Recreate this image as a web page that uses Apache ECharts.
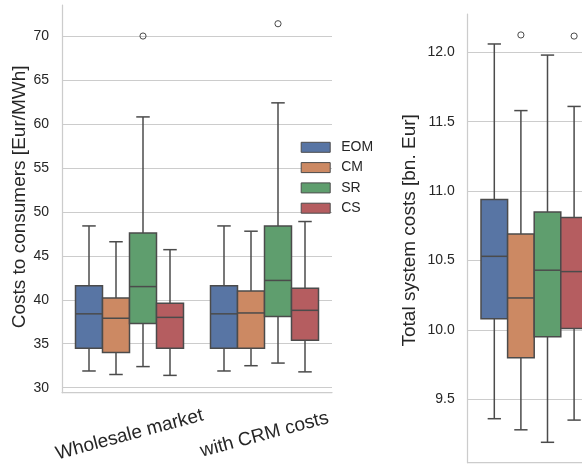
<!DOCTYPE html>
<html>
<head>
<meta charset="utf-8">
<script src="https://cdn.jsdelivr.net/npm/echarts@6/dist/echarts.min.js"></script>
<style>
  html, body { margin: 0; padding: 0; background: #ffffff; }
  #chart { width: 582px; height: 464px; }
</style>
</head>
<body>
<div id="chart"></div>
<script>
// Scenario groups on the consumer-cost panel
const groupLabels = ['Wholesale market', 'with CRM costs'];
const marketDesigns = ['EOM', 'CM', 'SR', 'CS'];

// Five-number summaries: [lower whisker, Q1, median, Q3, upper whisker], one row per group
const consumerEOM = [[31.9, 34.5, 38.4, 41.6, 48.4], [31.9, 34.5, 38.4, 41.6, 48.4]];
const consumerCM  = [[31.5, 34.0, 37.9, 40.2, 46.6], [32.5, 34.5, 38.5, 41.0, 47.8]];
const consumerSR  = [[32.4, 37.3, 41.5, 47.6, 60.8], [32.8, 38.1, 42.2, 48.4, 62.4]];
const consumerCS  = [[31.4, 34.5, 38.0, 39.6, 45.7], [31.8, 35.4, 38.8, 41.3, 48.9]];
// Outliers: [group index, design index, value]
const consumerOutliers = [[0, 2, 70.0], [1, 2, 71.4]];

// Total system costs (single group)
const systemEOM = [9.36, 10.08, 10.53, 10.94, 12.06];
const systemCM  = [9.28, 9.80, 10.23, 10.69, 11.58];
const systemSR  = [9.19, 9.95, 10.43, 10.85, 11.98];
const systemCS  = [9.35, 10.01, 10.42, 10.81, 11.61];
const systemOutliers = [[0, 1, 12.125], [0, 3, 12.117]];

// Tick values on the two value axes
const consumerTicks = [30, 35, 40, 45, 50, 55, 60, 65, 70];
const systemTicks = [9.5, 10.0, 10.5, 11.0, 11.5, 12.0];

const boxColors = ['#5875a4', '#cc8963', '#5f9e6e', '#b55d60'];
const lineColor = '#4b4b4b';
const textColor = '#262626';
const fontFamily = "'Liberation Sans', Arial, sans-serif";

// Horizontal centre and width of one box inside its category band
function boxSlot(api, cat, designIdx) {
  const band = api.size([1, 0])[0];
  const groupW = band * 0.8;
  const w = groupW / marketDesigns.length;
  const cx = api.coord([cat, 0])[0] - groupW / 2 + w * (designIdx + 0.5);
  return { cx, w };
}

function boxRenderer(designIdx) {
  return function (params, api) {
    const cat = api.value(0);
    const { cx, w } = boxSlot(api, cat, designIdx);
    const py = v => api.coord([cat, v])[1];
    const lo = py(api.value(1));
    const q1 = py(api.value(2));
    const med = py(api.value(3));
    const q3 = py(api.value(4));
    const hi = py(api.value(5));
    const capW = w * 0.5;
    const stroke = { stroke: lineColor, lineWidth: 1.5 };
    const seg = (x1, y1, x2, y2) => ({ type: 'line', shape: { x1, y1, x2, y2 }, style: stroke });
    return {
      type: 'group',
      children: [
        seg(cx, q1, cx, lo),
        seg(cx - capW / 2, lo, cx + capW / 2, lo),
        seg(cx, q3, cx, hi),
        seg(cx - capW / 2, hi, cx + capW / 2, hi),
        {
          type: 'rect',
          shape: { x: cx - w / 2, y: q3, width: w, height: q1 - q3 },
          style: { fill: boxColors[designIdx], stroke: lineColor, lineWidth: 1.5 }
        },
        seg(cx - w / 2, med, cx + w / 2, med)
      ]
    };
  };
}

function outlierRenderer(params, api) {
  const cat = api.value(0);
  const { cx } = boxSlot(api, cat, api.value(1));
  const y = api.coord([cat, api.value(2)])[1];
  return {
    type: 'circle',
    shape: { cx, cy: y, r: 3.1 },
    style: { fill: 'none', stroke: lineColor, lineWidth: 1 }
  };
}

const consumerData = [consumerEOM, consumerCM, consumerSR, consumerCS];
const systemData = [systemEOM, systemCM, systemSR, systemCS];

const series = [];
marketDesigns.forEach((name, i) => {
  series.push({
    type: 'custom',
    name,
    xAxisIndex: 0, yAxisIndex: 0,
    itemStyle: { color: boxColors[i] },
    renderItem: boxRenderer(i),
    encode: { x: 0, y: [1, 2, 3, 4, 5] },
    data: consumerData[i].map((s, g) => [g, ...s]),
    z: 3
  });
  series.push({
    type: 'custom',
    name,
    xAxisIndex: 1, yAxisIndex: 1,
    itemStyle: { color: boxColors[i] },
    renderItem: boxRenderer(i),
    encode: { x: 0, y: [1, 2, 3, 4, 5] },
    data: [[0, ...systemData[i]]],
    z: 3
  });
});
series.push({
  type: 'custom', xAxisIndex: 0, yAxisIndex: 0,
  renderItem: outlierRenderer, encode: { x: 0, y: 2 },
  data: consumerOutliers, z: 4
});
series.push({
  type: 'custom', xAxisIndex: 1, yAxisIndex: 1,
  renderItem: outlierRenderer, encode: { x: 0, y: 2 },
  data: systemOutliers, z: 4
});

const spine = { show: true, lineStyle: { color: '#cccccc', width: 1.25 } };
const gridLine = { show: true, showMinLine: false, showMaxLine: false, lineStyle: { color: '#cccccc', width: 1 } };

function valueAxis(gridIndex, ticks, name, nameGap, fmt, namePadding) {
  const step = ticks[1] - ticks[0];
  return {
    type: 'value', gridIndex,
    min: null, max: null,
    minInterval: step, maxInterval: step,
    name, nameLocation: 'middle', nameRotate: 90, nameGap,
    nameTextStyle: { color: textColor, fontSize: 19, fontFamily, padding: namePadding },
    axisLine: spine,
    axisTick: { show: false },
    axisLabel: {
      color: textColor, fontSize: 14, fontFamily, margin: 13,
      showMinLabel: false, showMaxLabel: false,
      formatter: fmt
    },
    splitLine: gridLine
  };
}

const yConsumer = valueAxis(0, consumerTicks, 'Costs to consumers [Eur/MWh]', 33, v => String(v), [0, 0, 0, 4]);
yConsumer.min = 29.43; yConsumer.max = 73.53;
const ySystem = valueAxis(1, systemTicks, 'Total system costs [bn. Eur]', 48, v => v.toFixed(1), [0, 0, 0, 16]);
ySystem.min = 9.043; ySystem.max = 12.276;

const option = {
  backgroundColor: '#ffffff',
  animation: false,
  textStyle: { fontFamily },
  grid: [
    { left: 62, top: 5, width: 270, height: 387.7, outerBoundsMode: 'none', containLabel: false },
    { left: 467.7, top: 14, width: 133, height: 448.7, outerBoundsMode: 'none', containLabel: false }
  ],
  legend: {
    orient: 'vertical',
    left: 300.7, top: 140.3,
    padding: 0,
    icon: 'rect',
    itemWidth: 29, itemHeight: 10, itemGap: 6.3,
    itemStyle: { borderColor: lineColor, borderWidth: 1 },
    textStyle: { color: textColor, fontSize: 14, fontFamily, lineHeight: 14, padding: [0, 0, 0, 6] },
    data: marketDesigns,
    selectedMode: false
  },
  xAxis: [
    {
      type: 'category', gridIndex: 0, data: groupLabels,
      axisLine: spine, axisTick: { show: false }, splitLine: { show: false },
      axisLabel: {
        rotate: 15, align: 'center', verticalAlign: 'middle', margin: 42,
        color: textColor, fontSize: 19, fontFamily, interval: 0
      }
    },
    {
      type: 'category', gridIndex: 1, data: [''],
      axisLine: spine, axisTick: { show: false }, splitLine: { show: false },
      axisLabel: { show: false }
    }
  ],
  yAxis: [yConsumer, ySystem],
  series
};

const chart = echarts.init(document.getElementById('chart'), null, { renderer: 'canvas' });
chart.setOption(option);
</script>
</body>
</html>
